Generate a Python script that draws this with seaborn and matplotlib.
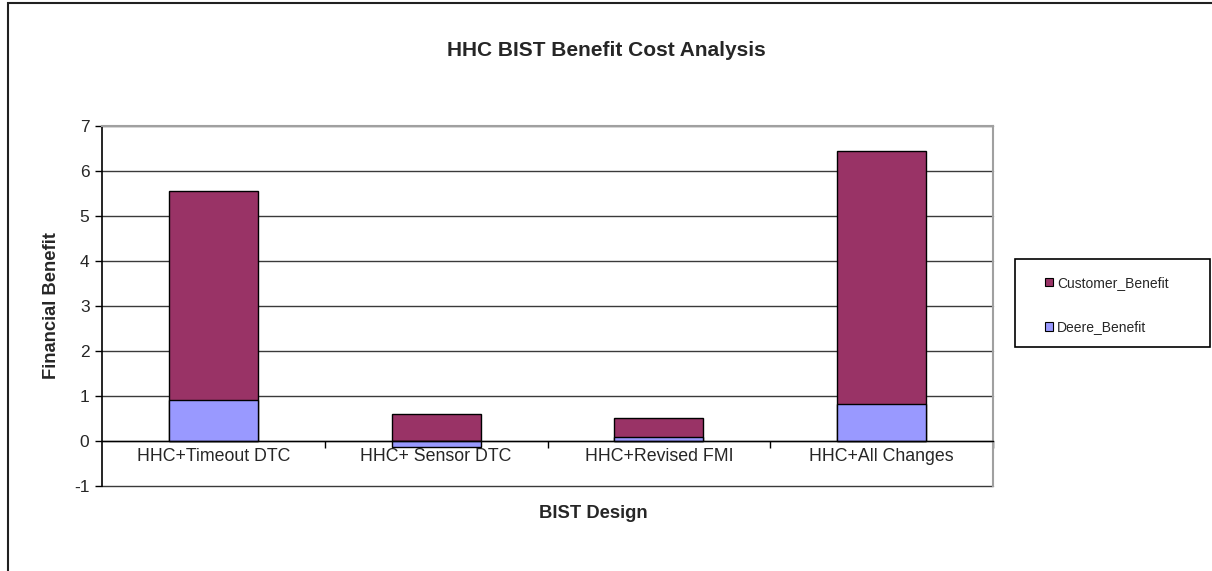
import matplotlib
matplotlib.use("Agg")
import matplotlib.pyplot as plt
import matplotlib.patches as mpatches
import numpy as np
import pandas as pd
import seaborn as sns

# Data
designs = ["HHC+Timeout DTC", "HHC+ Sensor DTC", "HHC+Revised FMI", "HHC+All Changes"]
deere_benefit = [0.91, -0.13, 0.09, 0.82]
customer_benefit = [4.65, 0.60, 0.42, 5.62]
y_ticks = [-1, 0, 1, 2, 3, 4, 5, 6, 7]

customer_color = "#993366"
deere_color = "#9999FF"

sns.set_theme(style="white")
plt.rcParams["font.family"] = ["Liberation Sans", "DejaVu Sans"]

W, H = 1212, 571
fig = plt.figure(figsize=(W / 100, H / 100), dpi=100)
fig.patch.set_facecolor("white")

# plot area in pixel terms
left, right, top, bottom = 102, 993, 126, 486
ax = fig.add_axes([left / W, 1 - bottom / H, (right - left) / W, (bottom - top) / H])

# stacked values: positive parts stack, negatives hang below zero
deere_arr = np.array(deere_benefit)
stack_top = np.maximum(deere_arr, 0) + np.array(customer_benefit)
df = pd.DataFrame({"design": designs, "top": stack_top, "deere": deere_arr})

# gridlines
for t in y_ticks:
    ax.axhline(t, color="#3a3a3a", lw=1.0, zorder=0, clip_on=False)

sns.barplot(data=df, x="design", y="top", color=customer_color, width=0.4,
            edgecolor="black", linewidth=1.0, saturation=1, ax=ax, zorder=2)
sns.barplot(data=df, x="design", y="deere", color=deere_color, width=0.4,
            edgecolor="black", linewidth=1.0, saturation=1, ax=ax, zorder=3)

ax.set_ylim(-1, 7)
ax.set_xlim(-0.5, 3.5)
ax.set_yticks(y_ticks)
ax.set_yticklabels([str(t) for t in y_ticks], fontsize=12.5)
ax.tick_params(axis="y", direction="out", length=5, width=1, color="black", pad=4, left=True)

# category axis sits on the zero line
ax.spines["bottom"].set_position(("data", 0))
ax.spines["bottom"].set_color("black")
ax.spines["bottom"].set_linewidth(1.0)
ax.spines["bottom"].set_zorder(4)
ax.spines["left"].set_color("black")
ax.spines["left"].set_linewidth(1.2)
for s in ("top", "right"):
    ax.spines[s].set_color("#a0a0a0")
    ax.spines[s].set_linewidth(1.5)

ax.set_xticks(range(len(designs)))
ax.set_xticklabels(designs, fontsize=12.8)
ax.tick_params(axis="x", which="major", length=0, pad=5)
ax.set_xticks([0.5, 1.5, 2.5, 3.5], minor=True)
ax.tick_params(axis="x", which="minor", direction="out", length=5, width=1, color="black", bottom=True)

ax.set_xlabel("")
ax.set_ylabel("")

# titles
fig.text(0.5, 1 - 51 / H, "HHC BIST Benefit Cost Analysis", ha="center", va="center",
         fontsize=15, fontweight="bold")
fig.text(593 / W, 1 - 513 / H, "BIST Design", ha="center", va="center",
         fontsize=13.2, fontweight="bold")
fig.text(52 / W, 1 - 306 / H, "Financial Benefit", ha="center", va="center",
         rotation=90, fontsize=13.2, fontweight="bold")

# legend box and entries
lx0, lx1, ly0, ly1 = 1015, 1210, 259, 347
box = mpatches.Rectangle((lx0 / W, 1 - ly1 / H), (lx1 - lx0) / W, (ly1 - ly0) / H,
                         transform=fig.transFigure, fill=True, facecolor="white",
                         edgecolor="black", linewidth=1.2)
fig.patches.append(box)

handles = [
    mpatches.Patch(facecolor=customer_color, edgecolor="black", linewidth=0.8, label="Customer_Benefit"),
    mpatches.Patch(facecolor=deere_color, edgecolor="black", linewidth=0.8, label="Deere_Benefit"),
]
leg = fig.legend(handles=handles, loc="center left",
                 bbox_to_anchor=(1045 / W, 1 - 305 / H),
                 frameon=False, fontsize=10,
                 handlelength=0.55, handleheight=0.55, handletextpad=0.3,
                 labelspacing=2.2, borderpad=0, borderaxespad=0)

# outer chart frame
frame = mpatches.Rectangle((8 / W, -0.05), 1.2, 1 - 3 / H + 0.05, transform=fig.transFigure,
                           fill=False, edgecolor="#202020", linewidth=1.5, clip_on=False)
fig.patches.append(frame)

fig.savefig("out.png", dpi=100, facecolor="white")
